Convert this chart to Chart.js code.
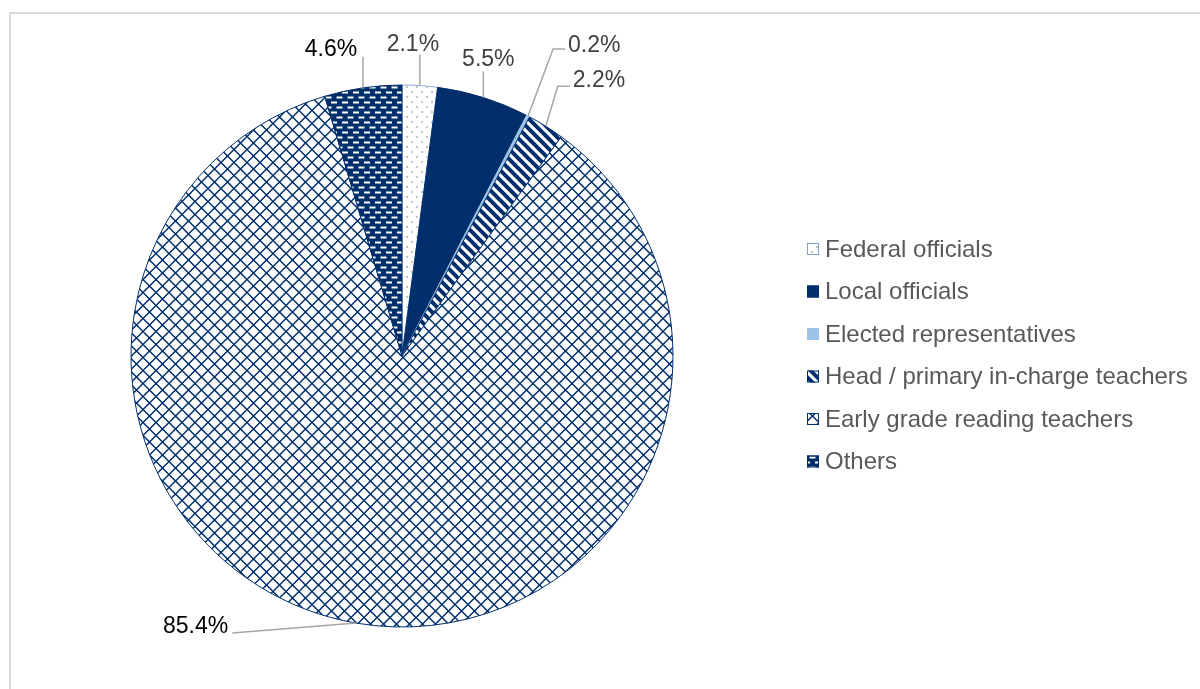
<!DOCTYPE html>
<html>
<head>
<meta charset="utf-8">
<title>Respondents by role</title>
<script src="https://cdn.jsdelivr.net/npm/chart.js@4/dist/chart.umd.min.js"></script>
<style>
  html, body { margin: 0; padding: 0; background: #fff; overflow: hidden; }
  #wrap { position: relative; width: 1200px; height: 689px; }
</style>
</head>
<body>
<div id="wrap"><canvas id="chart" width="1200" height="689"></canvas></div>
<script>
// Share of respondents per role (%)
const roles = ['Federal officials', 'Local officials', 'Elected representatives',
  'Head / primary in-charge teachers', 'Early grade reading teachers', 'Others'];
const shares = [2.1, 5.5, 0.2, 2.2, 85.4, 4.6];

const navy = '#002f6c';
const ctx = document.getElementById('chart').getContext('2d');

// build a repeating fill from a small tile
function makePattern(w, h, draw) {
  const c = document.createElement('canvas');
  c.width = w; c.height = h;
  const g = c.getContext('2d');
  draw(g, w, h);
  return ctx.createPattern(c, 'repeat');
}

const dotted = makePattern(10, 10, (g, w, h) => {
  g.fillStyle = '#fff'; g.fillRect(0, 0, w, h);
  g.fillStyle = '#c4c4c4';
  g.fillRect(1, 1, 2, 2);
  g.fillRect(6, 6, 2, 2);
});

const stripes = makePattern(10, 10, (g, w, h) => {
  g.fillStyle = '#fff'; g.fillRect(0, 0, w, h);
  g.strokeStyle = navy; g.lineWidth = 4;
  g.beginPath();
  g.moveTo(-5, -5); g.lineTo(15, 15);
  g.moveTo(-5, 5); g.lineTo(5, 15);
  g.moveTo(5, -5); g.lineTo(15, 5);
  g.stroke();
});

const lattice = makePattern(13, 13, (g, w, h) => {
  g.fillStyle = '#fff'; g.fillRect(0, 0, w, h);
  g.strokeStyle = navy; g.lineWidth = 1.5;
  g.beginPath();
  g.moveTo(0, 6.5); g.lineTo(6.5, 0); g.lineTo(13, 6.5); g.lineTo(6.5, 13); g.closePath();
  g.stroke();
});

const dashes = makePattern(11, 10, (g, w, h) => {
  g.fillStyle = navy; g.fillRect(0, 0, w, h);
  g.fillStyle = '#fff';
  g.fillRect(1, 1.5, 6, 2);
  g.fillRect(6.5, 6.5, 4.5, 2);
  g.fillRect(0, 6.5, 1.5, 2);
});

const fills = [dotted, navy, '#9dc3e6', stripes, lattice, dashes];
const edges = ['#8faadc', navy, '#9dc3e6', navy, navy, navy];

// where each value label sits, relative to the slice's outer edge
const labelLayout = [
  { end: [0, -31], text: [-7, -4], align: 'center' },
  { end: [0, -26], text: [5, -5], align: 'center' },
  { end: [25, -67], tail: 12, text: [3, 3], align: 'left' },
  { end: [12, -40], tail: 12, text: [3, 1], align: 'left' },
  { end: [-124, 10], text: [-4, 0], align: 'right' },
  { end: [0, -31], text: [-32, -1], align: 'center' }
];
const labelColors = ['#404040', '#404040', '#404040', '#404040', '#000', '#000'];

const frame = {
  id: 'frame',
  beforeDraw(chart) {
    const c = chart.ctx;
    c.save();
    c.strokeStyle = '#d9d9d9';
    c.lineWidth = 2;
    c.beginPath();
    c.moveTo(10, 700); c.lineTo(10, 13); c.lineTo(1210, 13);
    c.stroke();
    c.restore();
  }
};

const valueLabels = {
  id: 'valueLabels',
  afterDatasetsDraw(chart) {
    const c = chart.ctx;
    const arcs = chart.getDatasetMeta(0).data;
    const vals = chart.data.datasets[0].data;
    c.save();
    c.font = '23px "Liberation Sans", Arial, sans-serif';
    c.textBaseline = 'alphabetic';
    arcs.forEach((arc, i) => {
      const p = arc.getProps(['x', 'y', 'startAngle', 'endAngle', 'outerRadius'], true);
      const mid = (p.startAngle + p.endAngle) / 2;
      const ex = p.x + Math.cos(mid) * p.outerRadius;
      const ey = p.y + Math.sin(mid) * p.outerRadius;
      const lay = labelLayout[i];
      let lx = ex + lay.end[0], ly = ey + lay.end[1];
      c.strokeStyle = '#a6a6a6';
      c.lineWidth = 1.5;
      c.beginPath();
      c.moveTo(ex, ey);
      c.lineTo(lx, ly);
      if (lay.tail) { lx += lay.tail; c.lineTo(lx, ly); }
      c.stroke();
      c.fillStyle = labelColors[i];
      c.textAlign = lay.align;
      c.fillText(vals[i].toFixed(1) + '%', lx + lay.text[0], ly + lay.text[1]);
    });
    c.restore();
  }
};

const sideLegend = {
  id: 'sideLegend',
  afterDraw(chart) {
    const c = chart.ctx;
    const ds = chart.data.datasets[0];
    c.save();
    c.font = '24px "Liberation Sans", Arial, sans-serif';
    c.textBaseline = 'middle';
    c.textAlign = 'left';
    chart.data.labels.forEach((lab, i) => {
      const y = 249 + i * 42.5;
      c.fillStyle = ds.backgroundColor[i];
      c.fillRect(807, y - 6, 12, 12);
      c.strokeStyle = ds.borderColor[i] === '#8faadc' ? '#7f9fcf' : ds.borderColor[i];
      c.lineWidth = 1;
      c.strokeRect(807.5, y - 5.5, 11, 11);
      c.fillStyle = '#595959';
      c.fillText(lab, 825, y + 1);
    });
    c.restore();
  }
};

new Chart(ctx, {
  type: 'pie',
  data: {
    labels: roles,
    datasets: [{
      data: shares,
      backgroundColor: fills,
      borderColor: edges,
      borderWidth: 1
    }]
  },
  options: {
    responsive: false,
    animation: false,
    radius: 271,
    layout: { padding: { left: 0, right: 396, top: 23, bottom: 0 } },
    plugins: {
      legend: { display: false },
      tooltip: { enabled: false }
    }
  },
  plugins: [frame, valueLabels, sideLegend]
});
</script>
</body>
</html>
